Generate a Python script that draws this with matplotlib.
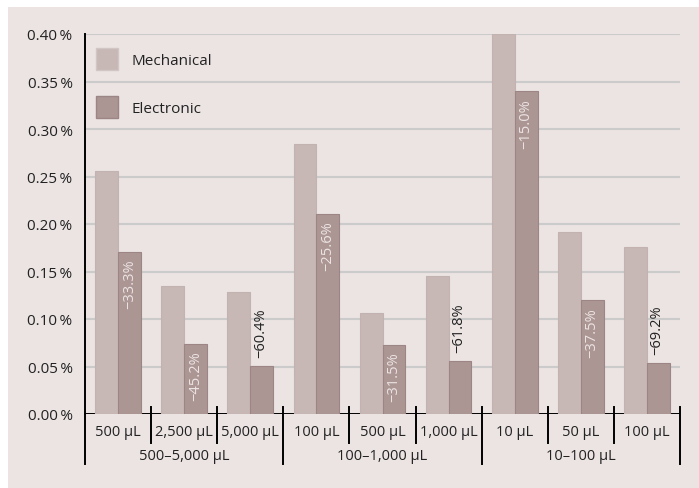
import matplotlib
matplotlib.use("Agg")
import matplotlib.pyplot as plt
from matplotlib.patches import Rectangle, Patch
from matplotlib.transforms import blended_transform_factory
from matplotlib.lines import Line2D

plt.rcParams['font.family'] = ['Open Sans', 'DejaVu Sans']

categories = ["500 µL", "2,500 µL", "5,000 µL", "100 µL", "500 µL", "1,000 µL", "10 µL", "50 µL", "100 µL"]
groups = ["500–5,000 µL", "100–1,000 µL", "10–100 µL"]
group_sizes = [3, 3, 3]
mechanical = [0.256, 0.135, 0.128, 0.284, 0.106, 0.145, 0.400, 0.192, 0.176]
electronic = [0.171, 0.074, 0.051, 0.211, 0.073, 0.056, 0.340, 0.120, 0.054]
change_labels = ["−33.3%", "−45.2%", "−60.4%", "−25.6%", "−31.5%", "−61.8%", "−15.0%", "−37.5%", "−69.2%"]
yticks = [0.00, 0.05, 0.10, 0.15, 0.20, 0.25, 0.30, 0.35, 0.40]

BG = "#ebe4e3"
MECH = "#c7b8b6"
ELEC = "#ab9694"
W, H = 699, 489

fig = plt.figure(figsize=(W / 100, H / 100), dpi=100)
fig.patch.set_facecolor("white")
fig.patches.append(Rectangle((8 / W, 0), 1 - 8 / W, 1 - 8 / H, transform=fig.transFigure,
                             facecolor=BG, edgecolor="none", zorder=-10))

ax = fig.add_axes([85 / W, (H - 415) / H, 595 / W, 380 / H])
ax.set_facecolor("none")
n = len(categories)
x = [i + 0.5 for i in range(n)]
bw = 0.345
ax.bar([v - bw / 2 for v in x], mechanical, width=bw, color=MECH, edgecolor="#c2b2b0", linewidth=0.8, zorder=3)
ax.bar([v + bw / 2 for v in x], electronic, width=bw, color=ELEC, edgecolor="#9c8584", linewidth=0.8, zorder=3)

ax.set_xlim(0, n)
ax.set_ylim(0, 0.40)
ax.set_yticks(yticks)
ax.set_yticklabels([f"{t:.2f}\u2009%" for t in yticks], fontsize=11, color="#222222")
ax.tick_params(axis="y", length=0, pad=9)
ax.set_xticks([])
for y in yticks[1:]:
    ax.axhline(y, color="#cbcbcb", linewidth=1.5, zorder=1)
for s in ["top", "right", "bottom"]:
    ax.spines[s].set_visible(False)
ax.spines["left"].set_linewidth(1.4)
ax.spines["left"].set_color("black")
ax.axhline(0, color="black", linewidth=1.4, zorder=2)

# labels on electronic bars
for xi, v, lab in zip(x, electronic, change_labels):
    if v > 0.06:
        ax.annotate(lab, (xi + bw / 2, v), xytext=(0, -5), textcoords="offset points",
                    rotation=90, ha="center", va="top", fontsize=10.5, color="#ece4e3", zorder=5)
    else:
        ax.annotate(lab, (xi + bw / 2, v), xytext=(-1, 6.5), textcoords="offset points",
                    rotation=90, ha="center", va="bottom", fontsize=10.5, color="#222222", zorder=5)

# category axis
tr = blended_transform_factory(ax.transData, ax.transAxes)
up = 7.5 / 380
minor_down = -28.5 / 380
major_down = -50 / 380
bounds = [0]
for g in group_sizes:
    bounds.append(bounds[-1] + g)
for b in range(n + 1):
    bottom = major_down if b in bounds else minor_down
    ax.add_line(Line2D([b, b], [up if b > 0 else 0, bottom], transform=tr, color="black",
                       linewidth=1.4, clip_on=False))
for xi, c in zip(x, categories):
    ax.text(xi, -18 / 380, c, transform=tr, ha="center", va="center", fontsize=10.5, color="#222222")
for gi, g in enumerate(groups):
    center = (bounds[gi] + bounds[gi + 1]) / 2
    ax.text(center, -42 / 380, g, transform=tr, ha="center", va="center", fontsize=10.5, color="#222222")

handles = [Patch(facecolor=MECH, edgecolor="#d2c6c4", label="Mechanical"),
           Patch(facecolor=ELEC, edgecolor="#9c8584", label="Electronic")]
ax.legend(handles=handles, loc="upper left", bbox_to_anchor=(96 / W, 1 - 49 / H),
          bbox_transform=fig.transFigure, frameon=False, borderpad=0, borderaxespad=0,
          handlelength=1.45, handleheight=1.85, labelspacing=1.7, handletextpad=0.85,
          fontsize=11, labelcolor="#222222")

fig.savefig("out.png", dpi=100, facecolor=fig.get_facecolor())
